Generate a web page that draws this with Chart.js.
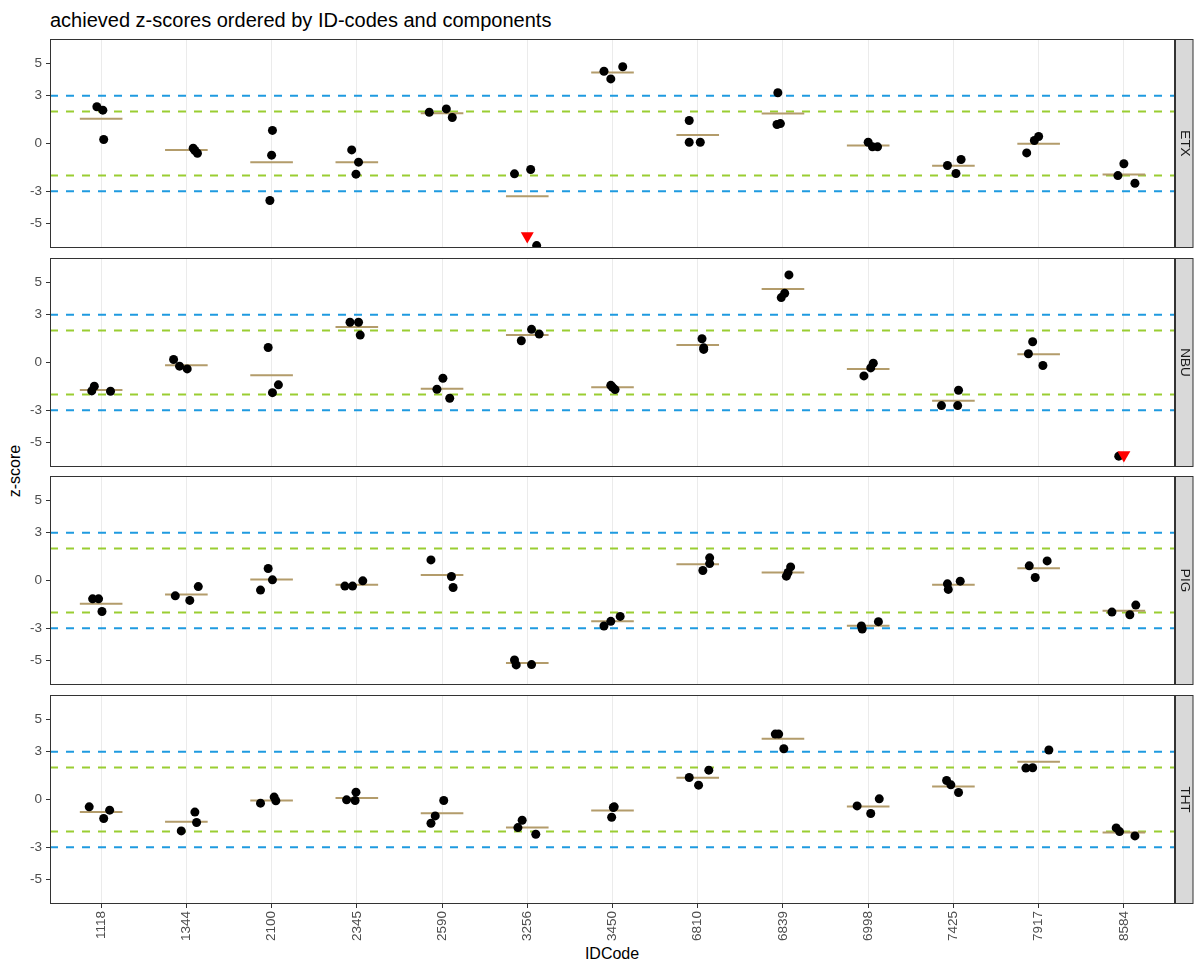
<!DOCTYPE html>
<html>
<head>
<meta charset="utf-8">
<script src="https://cdn.jsdelivr.net/npm/chart.js@4/dist/chart.umd.min.js"></script>
<style>
  html, body { margin: 0; padding: 0; background: #ffffff; }
  body { width: 1194px; height: 963px; position: relative; overflow: hidden; font-family: 'Liberation Sans', Arial, sans-serif; }
  .pane { position: absolute; left: 0; }
  #title { position: absolute; left: 50px; top: 10px; font-size: 20px; line-height: 20px; color: #000; white-space: nowrap; }
  #ylab { position: absolute; left: 15px; top: 471px; font-size: 16px; line-height: 16px; color: #000; white-space: nowrap; transform: translate(-50%, -50%) rotate(-90deg); }
  #xlab { position: absolute; left: 612px; top: 945px; font-size: 16px; line-height: 18px; color: #000; white-space: nowrap; transform: translateX(-50%); }
</style>
</head>
<body>
<div id="title">achieved z-scores ordered by ID-codes and components</div>
<div id="ylab">z-score</div>
<div id="xlab">IDCode</div>
<canvas id="c0" class="pane" width="1194" height="211" style="top:38px"></canvas>
<canvas id="c1" class="pane" width="1194" height="211" style="top:257px"></canvas>
<canvas id="c2" class="pane" width="1194" height="211" style="top:475px"></canvas>
<canvas id="c3" class="pane" width="1194" height="262" style="top:694px"></canvas>
<script>
// ---------- data ----------
const categories = ['1118','1344','2100','2345','2590','3256','3450','6810','6839','6998','7425','7917','8584'];
const components = ['ETX','NBU','PIG','THT'];
const yTicks = [-5, -3, 0, 3, 5];
const warnLimits = [2, -2];
const actionLimits = [3, -3];
const offScaleMarker = -5.8;

const etxValues = [[2.30,2.09,0.25],[-0.29,-0.44,-0.61],[0.82,-0.73,-3.57],[-0.40,-1.17,-1.92],[1.96,2.17,1.63],[-1.90,-1.63,-6.40],[4.53,4.05,4.81],[1.44,0.08,0.08],[3.18,1.19,1.25],[0.08,-0.21,-0.21],[-1.38,-1.00,-1.88],[-0.59,0.19,0.44],[-2.01,-1.27,-2.49]];
const etxJitter = [[-0.05,0.02,0.03],[0.08,0.10,0.13],[0.01,0.0,-0.02],[-0.06,0.02,-0.01],[-0.15,0.05,0.12],[-0.15,0.04,0.11],[-0.10,-0.02,0.12],[-0.10,-0.10,0.03],[-0.06,-0.07,-0.03],[0.0,0.05,0.11],[-0.07,0.09,0.03],[-0.14,-0.05,0.0],[-0.07,0.0,0.13]];
const etxMeans = [1.55,-0.40,-1.17,-1.17,1.90,-3.30,4.45,0.54,1.88,-0.13,-1.40,-0.02,-1.94];
const etxOffScale = ['3256'];

const nbuValues = [[-1.78,-1.49,-1.80],[0.19,-0.23,-0.40],[0.94,-1.89,-1.40],[2.52,2.52,1.72],[-0.99,-1.68,-2.24],[1.36,2.08,1.78],[-1.43,-1.55,-1.70],[1.49,0.92,0.82],[5.49,4.34,4.07],[-0.84,-0.34,-0.04],[-2.70,-2.70,-1.74],[1.30,0.55,-0.19],[-5.87]];
const nbuJitter = [[-0.11,-0.08,0.11],[-0.15,-0.08,0.01],[-0.04,0.01,0.08],[-0.08,0.02,0.04],[0.01,-0.06,0.09],[-0.07,0.05,0.14],[-0.02,0.0,0.03],[0.05,0.07,0.07],[0.07,0.02,-0.02],[-0.05,0.03,0.06],[-0.14,0.05,0.06],[-0.07,-0.12,0.05],[-0.06]];
const nbuMeans = [-1.72,-0.17,-0.80,2.22,-1.64,1.72,-1.55,1.09,4.61,-0.40,-2.39,0.52,null];
const nbuOffScale = ['8584'];

const pigValues = [[-1.15,-1.15,-1.94],[-0.96,-1.25,-0.38],[-0.60,0.75,0.04],[-0.35,-0.35,-0.02],[1.29,0.25,-0.44],[-4.98,-5.29,-5.27],[-2.85,-2.56,-2.25],[0.63,1.06,1.42],[0.27,0.50,0.85],[-2.85,-3.04,-2.58],[-0.21,-0.56,-0.04],[0.92,1.23,0.19],[-1.98,-2.15,-1.54]];
const pigJitter = [[-0.10,-0.03,0.01],[-0.13,0.04,0.14],[-0.13,-0.04,0.01],[-0.14,-0.05,0.07],[-0.13,0.11,0.13],[-0.15,-0.13,0.05],[-0.10,-0.02,0.09],[0.06,0.14,0.14],[0.04,0.06,0.09],[-0.08,-0.07,0.12],[-0.07,-0.06,0.08],[-0.11,0.10,-0.04],[-0.14,0.07,0.14]];
const pigMeans = [-1.46,-0.88,0.06,-0.27,0.35,-5.17,-2.56,1.02,0.50,-2.83,-0.27,0.77,-1.90];
const pigOffScale = [];

const thtValues = [[-0.46,-1.19,-0.67],[-1.97,-0.79,-1.44],[-0.23,0.15,-0.08],[-0.02,-0.06,0.46],[-1.49,-1.03,-0.06],[-1.76,-1.30,-2.18],[-1.11,-0.46,-0.50],[1.38,0.90,1.84],[4.10,4.10,3.18],[-0.40,-0.88,0.04],[1.19,0.92,0.44],[1.97,1.99,3.10],[-1.78,-2.01,-2.28]];
const thtJitter = [[-0.14,0.03,0.10],[-0.06,0.10,0.12],[-0.13,0.03,0.05],[-0.12,-0.02,-0.01],[-0.13,-0.08,0.02],[-0.11,-0.06,0.10],[-0.01,0.02,0.01],[-0.10,0.01,0.13],[-0.09,-0.05,0.01],[-0.13,0.03,0.13],[-0.08,-0.03,0.06],[-0.15,-0.07,0.12],[-0.09,-0.05,0.13]];
const thtMeans = [-0.79,-1.40,-0.06,0.10,-0.86,-1.76,-0.69,1.36,3.81,-0.44,0.82,2.36,-2.07];
const thtOffScale = [];

// ---------- styling ----------
Chart.defaults.font.family = "'Liberation Sans', Arial, sans-serif";
const COL_BLUE = '#1f9ae0';
const COL_GREEN = '#9acd32';
const COL_MEAN = '#b39c6b';
const COL_BORDER = '#333333';
const TICK_FONT = 13.5;
const X_MIN = -0.6, X_MAX = categories.length - 1 + 0.6;
const Y_MIN = -6.55, Y_MAX = 6.55;

function hlineData(levels) {
  const d = [];
  levels.forEach(v => { d.push({x: X_MIN, y: v}, {x: X_MAX, y: v}, {x: X_MAX, y: null}); });
  return d;
}

const panelPlugin = {
  id: 'panelDecor',
  afterDatasetsDraw(chart, args, opts) {
    const {ctx, chartArea: a} = chart;
    ctx.save();
    ctx.fillStyle = '#d9d9d9';
    ctx.fillRect(a.right, a.top, 18, a.bottom - a.top);
    ctx.strokeStyle = COL_BORDER;
    ctx.lineWidth = 1;
    ctx.strokeRect(a.right + 0.5, a.top + 0.5, 17.5, a.bottom - a.top - 1);
    ctx.strokeRect(a.left + 0.5, a.top + 0.5, a.right - a.left - 1, a.bottom - a.top - 1);
    ctx.translate(a.right + 9.5, (a.top + a.bottom) / 2);
    ctx.rotate(Math.PI / 2);
    ctx.fillStyle = '#1a1a1a';
    ctx.font = TICK_FONT + "px 'Liberation Sans', Arial, sans-serif";
    ctx.textAlign = 'center';
    ctx.textBaseline = 'middle';
    ctx.fillText(opts.label, 0, 0);
    ctx.restore();
  }
};

function makePanel(canvasId, label, values, jitter, means, offScale, isBottom) {
  const pts = [];
  values.forEach((arr, i) => arr.forEach((v, k) => pts.push({x: i + jitter[i][k], y: v})));
  const meanData = [];
  means.forEach((m, i) => {
    if (m === null) return;
    meanData.push({x: i - 0.25, y: m}, {x: i + 0.25, y: m}, {x: i + 0.25, y: null});
  });
  const tri = offScale.map(c => ({x: categories.indexOf(c), y: offScaleMarker}));

  return new Chart(document.getElementById(canvasId), {
    type: 'scatter',
    data: {
      datasets: [
        {data: tri, pointStyle: 'triangle', rotation: 180, pointRadius: 7.5, backgroundColor: '#ff0000', borderColor: '#ff0000', borderWidth: 0, clip: 0},
        {data: pts, pointRadius: 4.5, backgroundColor: '#000000', borderColor: '#000000', borderWidth: 0, clip: 0},
        {data: meanData, showLine: true, spanGaps: false, pointRadius: 0, borderColor: COL_MEAN, borderWidth: 2, clip: 0},
        {data: hlineData(warnLimits), showLine: true, spanGaps: false, pointRadius: 0, borderColor: COL_GREEN, borderWidth: 2, borderDash: [8, 8], clip: 0},
        {data: hlineData(actionLimits), showLine: true, spanGaps: false, pointRadius: 0, borderColor: COL_BLUE, borderWidth: 2, borderDash: [8, 8], clip: 0}
      ]
    },
    options: {
      animation: false,
      responsive: false,
      devicePixelRatio: 1,
      events: [],
      layout: {autoPadding: false, padding: {left: 0, right: 19, top: 1, bottom: isBottom ? 0 : 1}},
      plugins: {legend: {display: false}, tooltip: {enabled: false}, panelDecor: {label: label}},
      scales: {
        x: {
          type: 'linear', min: X_MIN, max: X_MAX,
          afterBuildTicks: s => { s.ticks = categories.map((c, i) => ({value: i})); },
          afterFit: s => { s.height = isBottom ? 52 : 0; s.paddingLeft = 0; s.paddingRight = 0; },
          grid: {color: '#ebebeb', lineWidth: 1, drawTicks: isBottom, tickLength: 4, tickColor: COL_BORDER},
          border: {display: false},
          ticks: {display: isBottom, autoSkip: false, minRotation: 90, maxRotation: 90, padding: 3,
                  color: '#4d4d4d', font: {size: TICK_FONT}, callback: v => categories[v]}
        },
        y: {
          min: Y_MIN, max: Y_MAX,
          afterBuildTicks: s => { s.ticks = yTicks.map(v => ({value: v})); },
          afterFit: s => { s.width = 50; s.paddingTop = 0; s.paddingBottom = 0; },
          grid: {drawOnChartArea: false, drawTicks: true, tickLength: 4, tickColor: COL_BORDER},
          border: {display: false},
          ticks: {color: '#4d4d4d', font: {size: TICK_FONT}, padding: 4, callback: v => String(v)}
        }
      }
    },
    plugins: [panelPlugin]
  });
}

makePanel('c0', components[0], etxValues, etxJitter, etxMeans, etxOffScale, false);
makePanel('c1', components[1], nbuValues, nbuJitter, nbuMeans, nbuOffScale, false);
makePanel('c2', components[2], pigValues, pigJitter, pigMeans, pigOffScale, false);
makePanel('c3', components[3], thtValues, thtJitter, thtMeans, thtOffScale, true);
</script>
</body>
</html>
